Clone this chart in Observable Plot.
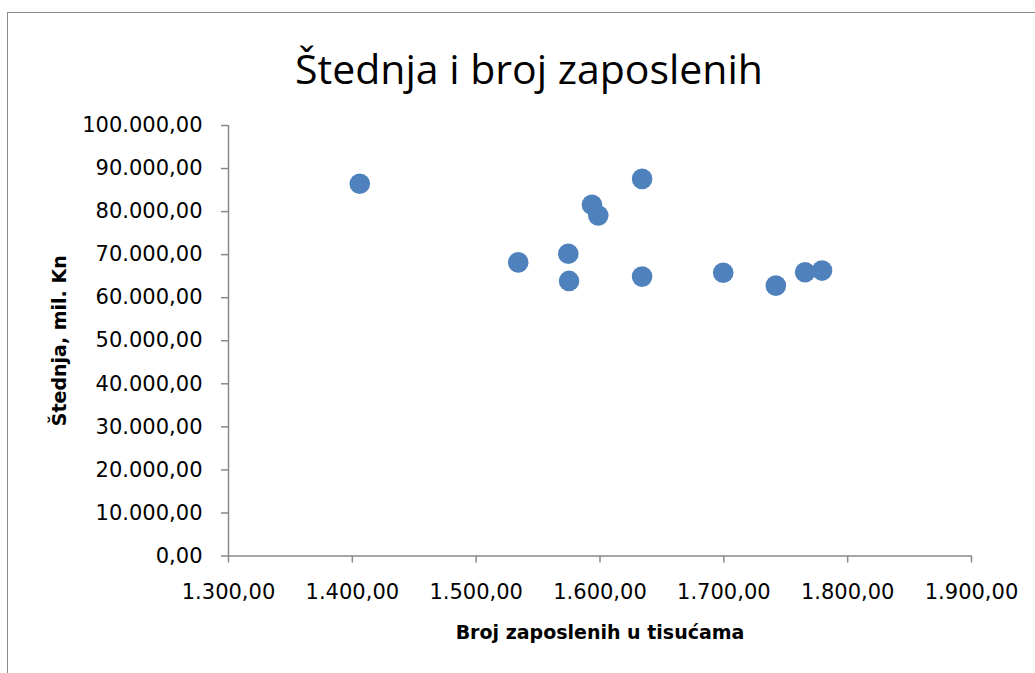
<!DOCTYPE html>
<html>
<head>
<meta charset="utf-8">
<script src="https://cdn.jsdelivr.net/npm/d3@7"></script>
<script src="https://cdn.jsdelivr.net/npm/@observablehq/plot@0.6"></script>
<style>
  html, body { margin: 0; padding: 0; background: #fff; }
  #wrap { position: relative; width: 1035px; height: 673px; overflow: hidden; }
  #frame { position: absolute; left: 7px; top: 12px; width: 1100px; height: 800px;
           border: 1.5px solid #8c8c8c; box-sizing: border-box; }
  #title { position: absolute; left: 0; width: 1058px; top: 48px; text-align: center;
           font-family: "Open Sans", sans-serif; font-size: 41px; line-height: 41px; color: #000; }
  #chart { position: absolute; left: 0; top: 0; }
</style>
</head>
<body>
<div id="wrap">
  <div id="frame"></div>
  <div id="chart"></div>
  <div id="title"></div>
</div>
<script>
const titleText = "Štednja i broj zaposlenih";
const xTitle = "Broj zaposlenih u tisućama";
const yTitle = "Štednja, mil. Kn";

// Broj zaposlenih (tisuće)
const employees = [1406, 1534, 1574.4, 1575, 1593.5, 1598.6, 1634, 1634, 1699.5, 1742, 1765.6, 1779.3];
// Štednja (mil. Kn)
const savings   = [86460, 68200, 70200, 63900, 81600, 79100, 87600, 64900, 65800, 62800, 65900, 66300];

const xTicks = [1300, 1400, 1500, 1600, 1700, 1800, 1900];
const yTicks = [0, 10000, 20000, 30000, 40000, 50000, 60000, 70000, 80000, 90000, 100000];

const data = employees.map((e, i) => ({x: e, y: savings[i]}));
const fmt = d3.formatLocale({decimal: ",", thousands: ".", grouping: [3], currency: ["", ""]}).format(",.2f");

document.getElementById("title").textContent = titleText;

const axisGray = "#898989";
const chart = Plot.plot({
  width: 1035,
  height: 673,
  marginLeft: 228,
  marginRight: 64,
  marginTop: 125,
  marginBottom: 117.5,
  style: {fontFamily: "DejaVu Sans", fontSize: "21px", color: "#000", background: "transparent", overflow: "visible"},
  x: {domain: [1300, 1900]},
  y: {domain: [0, 100000]},
  marks: [
    Plot.axisX({ticks: xTicks, tickFormat: fmt, tickSize: 7, tickPadding: 21, stroke: axisGray, strokeWidth: 1.5, label: null, fontSize: 21}),
    Plot.axisY({ticks: yTicks, tickFormat: fmt, tickSize: 7, tickPadding: 19, stroke: axisGray, strokeWidth: 1.5, label: null, fontSize: 21}),
    Plot.ruleY([0], {stroke: axisGray, strokeWidth: 1.5}),
    Plot.ruleX([1300], {stroke: axisGray, strokeWidth: 1.5}),
    Plot.dot(data, {x: "x", y: "y", r: 10.3, fill: "#4f81bd", stroke: "none"}),
    Plot.text([yTitle], {frameAnchor: "left", dx: -169, rotate: -90, textAnchor: "middle", lineAnchor: "middle",
      fontWeight: "bold", fontSize: 19, fontFamily: "DejaVu Sans", fill: "#000"}),
    Plot.text([xTitle], {frameAnchor: "bottom", dy: 77, textAnchor: "middle", lineAnchor: "middle",
      fontWeight: "bold", fontSize: 19, fontFamily: "DejaVu Sans", fill: "#000"})
  ]
});
document.getElementById("chart").appendChild(chart);
</script>
</body>
</html>
